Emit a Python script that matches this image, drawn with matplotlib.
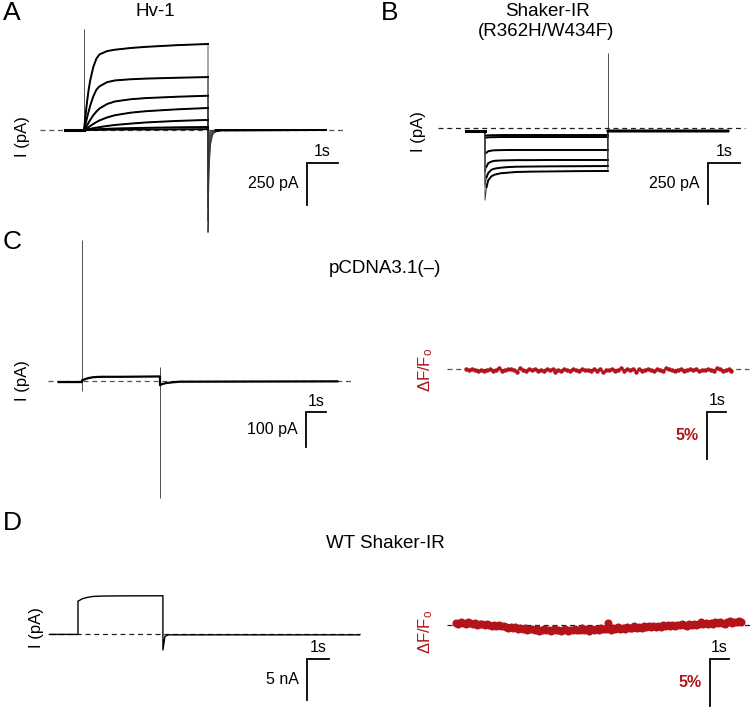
import matplotlib
matplotlib.use("Agg")
import matplotlib.pyplot as plt

plt.rcParams["font.family"] = ["Liberation Sans", "DejaVu Sans"]
plt.rcParams["mathtext.default"] = "regular"

W, H = 750, 709
RED = "#b3141a"

# ---- A: Hv-1 currents (pA), family of 7 sweeps ----
hv1_time = [-0.6, 0.0, 0.05, 0.1, 0.15, 0.2, 0.3, 0.4, 0.5, 0.75, 1.0, 1.5, 2.0, 3.0, 4.0,
            4.0, 4.02, 4.04, 4.08, 4.15, 4.25, 4.4, 7.8]
hv1_traces = [
    [0, 0, 90, 170, 240, 295, 375, 425, 450, 470, 478, 488, 495, 505, 512,
     -610, -380, -220, -90, -30, -8, -2, 0],
    [0, 0, 35, 75, 110, 145, 200, 240, 260, 285, 295, 302, 306, 311, 315,
     -540, -300, -170, -70, -22, -6, -1, 0],
    [0, 0, 12, 28, 44, 60, 88, 110, 128, 155, 170, 183, 190, 198, 204,
     -460, -240, -130, -50, -16, -4, -1, 0],
    [0, 0, 5, 11, 17, 24, 36, 47, 57, 75, 88, 103, 112, 123, 131,
     -380, -180, -95, -35, -11, -3, 0, 0],
    [0, 0, 1, 3, 5, 7, 11, 14, 17, 24, 30, 38, 45, 54, 60,
     -280, -120, -60, -22, -7, -2, 0, 0],
    [0, 0, 0, 1, 1, 2, 3, 4, 5, 7, 9, 11, 13, 16, 18,
     -180, -70, -35, -12, -4, -1, 0, 0],
    [0, 0, 0, 0, 0, 0, 1, 1, 1, 2, 2, 3, 3, 4, 5,
     -90, -35, -15, -5, -2, 0, 0, 0],
]
hv1_cap_on = 600

# ---- B: Shaker-IR (R362H/W434F) currents (pA) ----
sh_time = [-0.6, 0.0, 0.0, 0.05, 0.1, 0.2, 0.3, 0.5, 0.75, 1.0, 1.5, 2.0, 3.0, 3.9, 3.9, 7.7]
sh_traces = [
    [-18, -18, -48, -46, -45, -44, -44, -43, -43, -43, -43, -43, -43, -43, -18, -18],
    [-18, -18, -60, -58, -57, -56, -56, -55, -55, -55, -55, -55, -55, -55, -18, -18],
    [-18, -18, -160, -150, -142, -138, -136, -135, -134, -134, -134, -134, -134, -134, -18, -18],
    [-18, -18, -270, -235, -215, -205, -200, -198, -197, -196, -196, -195, -195, -195, -18, -18],
    [-18, -18, -350, -300, -275, -255, -248, -242, -238, -236, -235, -234, -233, -232, -18, -18],
    [-18, -18, -440, -360, -320, -295, -285, -276, -272, -268, -266, -265, -263, -262, -18, -18],
]
sh_cap_off = 460

# ---- C: pCDNA3.1(-) current (pA) and fluorescence (%) ----
pc_time = [-1.2, 0.0, 0.0, 0.3, 0.6, 1.0, 2.0, 4.0, 4.0, 4.1, 4.3, 4.6, 5.0, 13.1]
pc_current = [-3, -3, 2, 8, 11, 12, 12, 13, -12, -9, -6, -4, -2, -1]
pc_cap_on = (-29, 403)
pc_cap_off = (-334, 40)
pc_dt = 0.157
pc_fluor = [
    0.0, -0.1, 0.05, -0.15, -0.2, -0.1, -0.25, -0.15, -0.05, -0.2,
    -0.1, 0.15, -0.2, -0.1, -0.05, 0.0, -0.15, -0.3, 0.1, -0.1,
    -0.2, -0.05, -0.15, 0.05, -0.25, -0.1, -0.2, 0.0, -0.15, -0.05,
    -0.3, -0.1, -0.2, 0.05, -0.15, -0.25, -0.05, -0.1, -0.2, 0.0,
    -0.15, -0.1, -0.25, -0.05, -0.2, 0.05, -0.3, -0.15, -0.1, 0.0,
    -0.2, -0.1, 0.1, -0.25, -0.05, -0.15, 0.05, -0.3, 0.0, -0.2,
    -0.1, 0.05, -0.15, -0.25, 0.0, -0.1, -0.2, 0.1, -0.05, -0.15,
    -0.25, -0.1, 0.0, -0.2, -0.1, -0.05, -0.15, 0.05, -0.2, -0.1,
    -0.15, 0.0, -0.1, -0.2, 0.1, -0.05, -0.25, -0.1, 0.0, -0.2,
]

# ---- D: WT Shaker-IR current (nA) and fluorescence (%) ----
wt_time = [-1.3, 0.0, 0.0, 0.2, 0.4, 0.6, 0.8, 1.2, 2.0, 3.86, 3.86, 3.95, 4.1, 12.8]
wt_current = [-0.05, -0.05, 4.0, 4.3, 4.45, 4.55, 4.6, 4.63, 4.65, 4.66, -1.95, -0.3, -0.1, -0.1]
wt_dt = 0.122
wt_fluor = [
    0.25, 0.15, 0.3, 0.2, 0.1, 0.28, 0.18, 0.12, 0.22, 0.05,
    0.15, 0.08, -0.02, 0.12, 0.0, -0.08, 0.05, -0.12, -0.05, -0.15,
    -0.1, -0.22, -0.3, -0.18, -0.35, -0.25, -0.4, -0.3, -0.45, -0.35,
    -0.5, -0.38, -0.42, -0.55, -0.45, -0.6, -0.48, -0.4, -0.58, -0.5,
    -0.62, -0.45, -0.55, -0.5, -0.68, -0.52, -0.44, -0.6, -0.5, -0.56,
    -0.4, -0.58, -0.48, -0.35, -0.55, -0.45, -0.6, -0.42, -0.5, -0.38,
    -0.52, -0.3, -0.45, -0.4, 0.25, -0.48, -0.35, -0.42, -0.25, -0.38,
    -0.3, -0.4, -0.22, -0.35, -0.28, -0.15, -0.32, -0.2, -0.28, -0.1,
    -0.22, -0.15, -0.25, -0.08, -0.18, -0.12, -0.2, -0.05, -0.15, -0.02,
    -0.1, 0.02, -0.08, 0.05, -0.05, 0.1, 0.0, -0.06, 0.08, 0.02,
    0.12, 0.05, 0.15, 0.3, 0.1, 0.2, 0.08, 0.25, 0.15, 0.32,
    0.18, 0.35, 0.22, 0.12, 0.3, 0.4, 0.2, 0.35, 0.28, 0.42, 0.3,
]

fig = plt.figure(figsize=(7.5, 7.09), dpi=100)


def add_panel(box, t0_px, base_px, px_per_s, px_per_unit):
    left, top, right, bottom = box
    ax = fig.add_axes([left / W, 1 - bottom / H, (right - left) / W, (bottom - top) / H])
    ax.set_xlim((left - t0_px) / px_per_s, (right - t0_px) / px_per_s)
    ax.set_ylim((base_px - bottom) / px_per_unit, (base_px - top) / px_per_unit)
    ax.axis("off")
    return ax


def ftext(x, y, s, **kw):
    fig.text(x / W, 1 - y / H, s, **kw)


def baseline(ax, t1, t2, color="#555555"):
    ax.plot([t1, t2], [0, 0], color=color, lw=0.9, ls=(0, (4, 3)), zorder=0)


def scale_bar(ax, t, y, dy, label, color="black", weight="normal"):
    ax.plot([t + 1, t, t], [y, y, y - dy], color="black", lw=1.3, solid_joinstyle="miter")
    ax.annotate("1s", (t + 0.5, y), xytext=(0, 8), textcoords="offset points",
                ha="center", va="center", fontsize=11.5)
    ax.annotate(label, (t, y - dy / 2), xytext=(-6, 0), textcoords="offset points",
                ha="right", va="center", fontsize=11.5, color=color, fontweight=weight)


# panel A
axA = add_panel((30, 20, 355, 240), 84, 130, 31, 42 / 250)
baseline(axA, -1.42, 8.35)
axA.vlines(0, 0, hv1_cap_on, color="#333333", lw=0.6)
for tr in hv1_traces:
    axA.plot(hv1_time, tr, color="#333333", lw=0.6)
    axA.plot(hv1_time[:15], tr[:15], color="black", lw=1.4)
    axA.plot(hv1_time[20:], tr[20:], color="black", lw=1.4)
axA.plot(hv1_time[:2], hv1_traces[0][:2], color="black", lw=2.2)
scale_bar(axA, 7.19, -196, 250, "250 pA")

# panel B
axB = add_panel((430, 40, 750, 215), 485, 128, 31.5, 41 / 250)
baseline(axB, -1.49, 8.25, color="#222222")
axB.vlines(3.9, -18, sh_cap_off, color="#333333", lw=0.6)
for tr in sh_traces:
    axB.plot(sh_time, tr, color="#333333", lw=0.6)
    axB.plot(sh_time[3:14], tr[3:14], color="black", lw=1.4)
    axB.plot(sh_time[14:], tr[14:], color="black", lw=1.6)
axB.plot(sh_time[:2], sh_traces[0][:2], color="black", lw=2.2)
scale_bar(axB, 7.08, -213, 250, "250 pA")

# panel C current
axC = add_panel((30, 232, 360, 505), 82, 381, 19.5, 0.35)
baseline(axC, -1.74, 13.85)
axC.vlines(0, *pc_cap_on, color="#333333", lw=0.6)
axC.vlines(4.0, *pc_cap_off, color="#333333", lw=0.6)
axC.plot(pc_time, pc_current, color="black", lw=1.6)
scale_bar(axC, 11.5, -89, 100, "100 pA")

# panel C fluorescence
axCf = add_panel((420, 330, 750, 480), 466, 369, 19, 9.4)
baseline(axCf, -1.0, 14.9)
tc = [i * pc_dt for i in range(len(pc_fluor))]
axCf.plot(tc, pc_fluor, color=RED, lw=0.8, marker="o", ms=2.2, mec=RED, mfc=RED)
scale_bar(axCf, 12.7, -4.57, 5, "5%", color=RED, weight="bold")

# panel D current
axD = add_panel((30, 560, 365, 709), 78, 634, 22, 8.2)
baseline(axD, -1.27, 12.8, color="#222222")
axD.plot(wt_time, wt_current, color="black", lw=1.0)
scale_bar(axD, 10.4, -3.05, 5, "5 nA")

# panel D fluorescence
axDf = add_panel((420, 590, 750, 709), 456, 625, 19.5, 9.4)
baseline(axDf, -0.46, 15.1, color="#222222")
td = [i * wt_dt for i in range(len(wt_fluor))]
axDf.plot(td, wt_fluor, color=RED, lw=1.4, marker="o", ms=4.8, mec=RED, mfc=RED)
scale_bar(axDf, 13.0, -3.6, 5, "5%", color=RED, weight="bold")

# labels
for x, y, s in [(3, 13, "A"), (381, 13, "B"), (3, 242, "C"), (3, 523, "D")]:
    ftext(x, y, s, fontsize=19, ha="left", va="center")
ftext(155, 11, "Hv-1", fontsize=13.5, ha="center", va="center")
ftext(547, 11, "Shaker-IR", fontsize=13.5, ha="center", va="center")
ftext(546, 32, "(R362H/W434F)", fontsize=13.5, ha="center", va="center")
ftext(385, 268, "pCDNA3.1(\u2013)", fontsize=13.5, ha="center", va="center")
ftext(385, 543, "WT Shaker-IR", fontsize=13.5, ha="center", va="center")
for x, y in [(22, 137), (418, 132), (22, 381), (36, 628)]:
    ftext(x, y, "I (pA)", fontsize=12, rotation=90, ha="center", va="center")
for x, y in [(426, 370), (426, 632)]:
    ftext(x, y, "\u0394F/F$_{o}$", fontsize=12, rotation=90, ha="center", va="center", color=RED)

fig.savefig("out.png", dpi=100)
